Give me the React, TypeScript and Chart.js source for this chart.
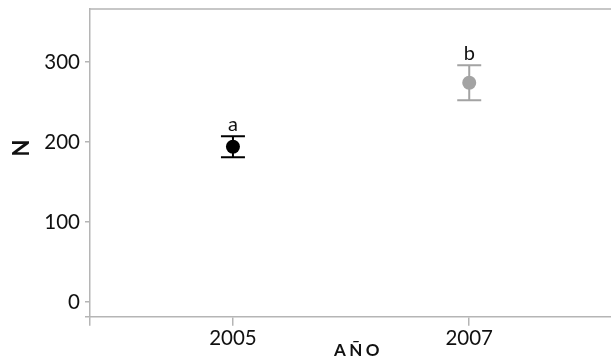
import React, { useEffect, useRef } from "react";
import { Chart, registerables } from "chart.js";

Chart.register(...registerables);

const years = [2005, 2007];
const means = [194, 274];
const errors = [13, 22];
const groupLabels = ["a", "b"];
const pointColors = ["#000000", "#a3a3a3"];
const yTickValues = [0, 100, 200, 300];
const xTickValues = [2005, 2007];
const xTitle = "AÑO";
const yTitle = "N";

const X_MIN = 2003.79;
const X_MAX = 2008.2;
const Y_MIN = -18.4;
const Y_MAX = 366.2;

const AXIS_COLOR = "#b5b5b5";
const FONT = "Lato, 'Open Sans', sans-serif";

const errorBarPlugin = {
  id: "errorBars",
  beforeDatasetsDraw(chart: any) {
    const { ctx, scales } = chart;
    const xs = scales.x;
    const ys = scales.y;
    ctx.save();
    years.forEach((yr, i) => {
      const px = xs.getPixelForValue(yr);
      const top = ys.getPixelForValue(means[i] + errors[i]);
      const bot = ys.getPixelForValue(means[i] - errors[i]);
      ctx.strokeStyle = pointColors[i];
      ctx.lineWidth = 2;
      ctx.beginPath();
      ctx.moveTo(px, top);
      ctx.lineTo(px, bot);
      ctx.moveTo(px - 12, top);
      ctx.lineTo(px + 12, top);
      ctx.moveTo(px - 12, bot);
      ctx.lineTo(px + 12, bot);
      ctx.stroke();
    });
    ctx.restore();
  },
  afterDatasetsDraw(chart: any) {
    const { ctx, scales } = chart;
    const xs = scales.x;
    const ys = scales.y;
    ctx.save();
    ctx.fillStyle = "#111";
    ctx.font = `20px ${FONT}`;
    ctx.textAlign = "center";
    ctx.textBaseline = "alphabetic";
    years.forEach((yr, i) => {
      const px = xs.getPixelForValue(yr);
      const top = ys.getPixelForValue(means[i] + errors[i]);
      ctx.fillText(groupLabels[i], px, top - 5);
    });
    ctx.restore();
  },
  afterDraw(chart: any) {
    const { ctx, chartArea } = chart;
    ctx.save();
    ctx.strokeStyle = AXIS_COLOR;
    ctx.lineWidth = 1.5;
    ctx.beginPath();
    ctx.moveTo(chartArea.left, chartArea.top);
    ctx.lineTo(chartArea.right, chartArea.top);
    ctx.stroke();
    ctx.fillStyle = "#111";
    ctx.textAlign = "center";
    ctx.textBaseline = "middle";
    ctx.font = `bold 17px ${FONT}`;
    (ctx as any).letterSpacing = "3.5px";
    ctx.fillText(xTitle, (chartArea.left + chartArea.right) / 2 + 8, 351);
    ctx.translate(22, 148);
    ctx.rotate(-Math.PI / 2);
    ctx.font = `bold 22px ${FONT}`;
    (ctx as any).letterSpacing = "0px";
    ctx.fillText(yTitle, 0, 0);
    ctx.restore();
  },
};

const zeroPadding = (scale: any) => {
  scale.paddingTop = 0;
  scale.paddingBottom = 0;
  scale.paddingLeft = 0;
  scale.paddingRight = 0;
};

export default function App() {
  const ref = useRef<HTMLCanvasElement | null>(null);
  useEffect(() => {
    if (!ref.current) return;
    const chart = new Chart(ref.current, {
      type: "scatter",
      data: {
        datasets: [
          {
            data: years.map((yr, i) => ({ x: yr, y: means[i] })),
            backgroundColor: pointColors,
            borderColor: pointColors,
            pointRadius: 7,
            pointHoverRadius: 7,
            borderWidth: 0,
          },
        ],
      },
      options: {
        animation: false,
        responsive: false,
        maintainAspectRatio: false,
        layout: { autoPadding: false, padding: { top: 9, right: 0, left: 0, bottom: 0 } },
        plugins: {
          legend: { display: false },
          tooltip: { enabled: false },
        },
        scales: {
          x: {
            type: "linear",
            min: X_MIN,
            max: X_MAX,
            afterBuildTicks: (scale: any) => {
              scale.ticks = [{ value: X_MIN }, ...xTickValues.map((v) => ({ value: v }))];
            },
            afterFit: (scale: any) => {
              scale.height = 43.3;
              zeroPadding(scale);
            },
            ticks: {
              padding: 0,
              color: "#111",
              font: { family: FONT, size: 20.5 },
              callback: (v: any) => (xTickValues.includes(v) ? String(v) : ""),
            },
            grid: {
              drawOnChartArea: false,
              drawTicks: true,
              tickLength: 9,
              color: AXIS_COLOR,
              lineWidth: 1.5,
            },
            border: { display: true, color: AXIS_COLOR, width: 1.5 },
          },
          y: {
            type: "linear",
            min: Y_MIN,
            max: Y_MAX,
            afterBuildTicks: (scale: any) => {
              scale.ticks = [{ value: Y_MIN }, ...yTickValues.map((v) => ({ value: v }))];
            },
            afterFit: (scale: any) => {
              scale.width = 90;
              zeroPadding(scale);
            },
            ticks: {
              padding: 5,
              color: "#111",
              font: { family: FONT, size: 20.5 },
              callback: (v: any) => (yTickValues.includes(v) ? String(v) : ""),
            },
            grid: {
              drawOnChartArea: false,
              drawTicks: true,
              tickLength: 5,
              color: AXIS_COLOR,
              lineWidth: 1.5,
            },
            border: { display: true, color: AXIS_COLOR, width: 1.5 },
          },
        },
      },
      plugins: [errorBarPlugin],
    });
    return () => chart.destroy();
  }, []);
  return (
    <div style={{ position: "fixed", left: 0, top: 0, width: 611, height: 360, background: "#fff" }}>
      <canvas ref={ref} width={611} height={360} style={{ width: 611, height: 360, display: "block" }} />
    </div>
  );
}
